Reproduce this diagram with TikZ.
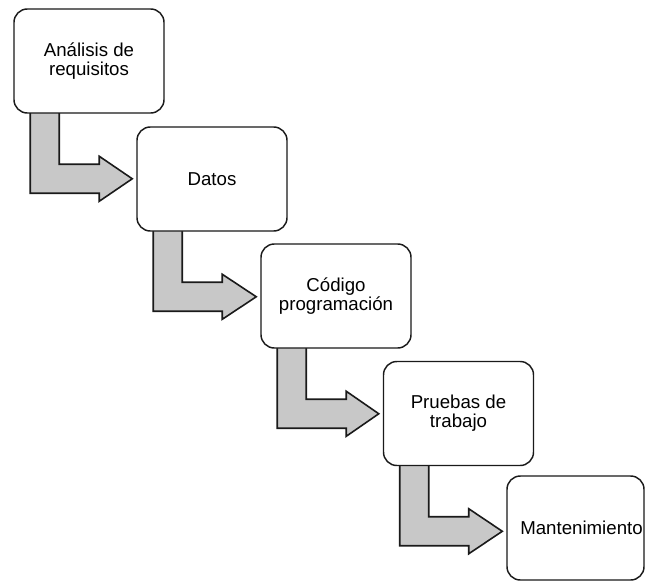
\documentclass[tikz,border=0pt]{standalone}
\usepackage{fontspec}
\setmainfont{Liberation Sans}
\usetikzlibrary{calc,backgrounds}
\definecolor{stepgray}{HTML}{C8C8C8}
\definecolor{inkline}{HTML}{1A1A1A}
\tikzset{
  stagebox/.style={draw=inkline, line width=1.1pt, fill=white, rounded corners=10pt,
    minimum width=112.5pt, minimum height=78pt, inner sep=0pt, align=center,
    font=\fontsize{14}{14.5}\selectfont},
  flowarrow/.style={draw=inkline, line width=1.2pt, fill=stepgray, line join=miter}
}
% L-shaped block arrow from the bottom of one stage towards the left side of the next
\newcommand{\stagearrow}[2]{%
  \path[flowarrow]
    ($(#1.south west)+(17,-2)$) -- ($(#1.south west)+(46,-2)$)
    -- ($(#1.north west)+(46,156)$) -- ($(#1.north west)+(86,156)$)
    -- ($(#1.north west)+(86,148)$)
    -- ($(#2.west |- {$(#1.north west)+(0,170.5)$})+(-4,0)$)
    -- ($(#1.north west)+(86,193)$) -- ($(#1.north west)+(86,185)$)
    -- ($(#1.north west)+(17,185)$) -- cycle;}
\begin{document}
\begin{tikzpicture}[x=0.75pt,y=-0.75pt]
  \useasboundingbox (0,0) rectangle (645,581);
  % stage boxes
  \node[stagebox] (s1) at (89,61) {Análisis de\\requisitos};
  \node[stagebox] (s2) at (212,179) {Datos};
  \node[stagebox] (s3) at (336,296) {Código\\programación};
  \node[stagebox] (s4) at (458.5,413.5) {Pruebas de\\trabajo};
  \node[stagebox, minimum width=102.75pt] (s5) at (575.5,528) {\hspace*{9pt}Mantenimiento};
  % white page, then the arrows between consecutive stages, all behind the boxes
  \begin{scope}[on background layer]
    \fill[white] (0,0) rectangle (645,581);
    \stagearrow{s1}{s2}
    \stagearrow{s2}{s3}
    \stagearrow{s3}{s4}
    \stagearrow{s4}{s5}
  \end{scope}
\end{tikzpicture}
\end{document}
